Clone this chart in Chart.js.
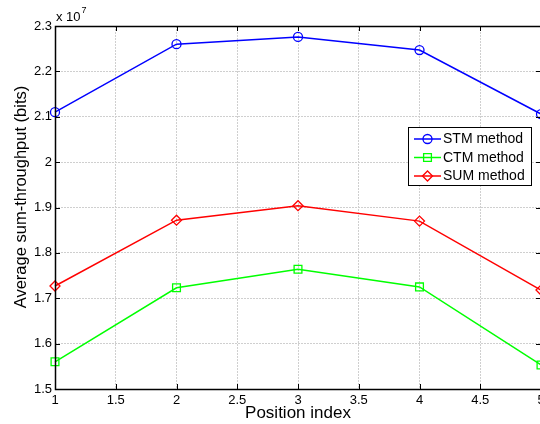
<!DOCTYPE html>
<html>
<head>
<meta charset="utf-8">
<script src="https://cdn.jsdelivr.net/npm/chart.js@4"></script>
<style>
  html, body { margin: 0; padding: 0; overflow: hidden; background: #fff; }
  #wrap { width: 542px; height: 424px; }
</style>
</head>
<body>
<div id="wrap"><canvas id="c" width="542" height="424"></canvas></div>
<script>
// Data (values in units of 10^7 bits)
const positions = [1, 2, 3, 4, 5];
const stmValues = [2.110, 2.260, 2.276, 2.247, 2.106];
const ctmValues = [1.560, 1.723, 1.764, 1.725, 1.553];
const sumValues = [1.727, 1.872, 1.904, 1.870, 1.718];
const seriesNames = ['STM method', 'CTM method', 'SUM method'];
const xTickValues = [1, 1.5, 2, 2.5, 3, 3.5, 4, 4.5, 5];
const yTickValues = [1.5, 1.6, 1.7, 1.8, 1.9, 2.0, 2.1, 2.2, 2.3];
const exponentLabel = '7';
const yTitle = 'Average sum-throughput (bits)';
const xTitle = 'Position index';

const FONT = "'Liberation Sans', Arial, Helvetica, sans-serif";

function toXY(vals) { return positions.map((p, i) => ({ x: p, y: vals[i] })); }

const frameTicks = {
  id: 'frameTicks',
  afterDatasetsDraw(chart) {
    const { ctx, chartArea: a, scales: { x, y } } = chart;
    ctx.save();
    ctx.strokeStyle = '#000';
    ctx.lineWidth = 1;
    const L = 5;
    ctx.beginPath();
    xTickValues.forEach(v => {
      const px = Math.round(x.getPixelForValue(v)) + 0.5;
      ctx.moveTo(px, a.bottom); ctx.lineTo(px, a.bottom - L);
      ctx.moveTo(px, a.top); ctx.lineTo(px, a.top + L);
    });
    yTickValues.forEach(v => {
      const py = Math.round(y.getPixelForValue(v)) + 0.5;
      ctx.moveTo(a.left, py); ctx.lineTo(a.left + L, py);
      ctx.moveTo(a.right, py); ctx.lineTo(a.right - L, py);
    });
    ctx.stroke();
    ctx.lineWidth = 1.5;
    ctx.strokeRect(Math.round(a.left) + 0.5, Math.round(a.top) + 0.5,
                   Math.round(a.right - a.left), Math.round(a.bottom - a.top));
    // exponent label
    ctx.fillStyle = '#000';
    ctx.textBaseline = 'alphabetic';
    ctx.textAlign = 'left';
    ctx.font = '13px ' + FONT;
    ctx.fillText('x 10', a.left + 1, a.top - 5);
    const w = ctx.measureText('x 10').width;
    ctx.font = '9px ' + FONT;
    ctx.fillText(exponentLabel, a.left + 2 + w, a.top - 13);
    // y axis title
    ctx.save();
    ctx.translate(21, 197);
    ctx.rotate(-Math.PI / 2);
    ctx.font = '16.5px ' + FONT;
    ctx.textAlign = 'center';
    ctx.textBaseline = 'middle';
    ctx.fillText(yTitle, 0, 0);
    ctx.restore();
    ctx.restore();
  },
  afterDraw(chart) {
    const { ctx } = chart;
    const bx = 408, by = 127, bw = 123, bh = 58;
    ctx.save();
    ctx.fillStyle = '#fff';
    ctx.fillRect(bx, by, bw, bh);
    ctx.strokeStyle = '#000';
    ctx.lineWidth = 1;
    ctx.strokeRect(bx + 0.5, by + 0.5, bw, bh);
    ctx.font = '14px ' + FONT;
    ctx.textBaseline = 'middle';
    ctx.textAlign = 'left';
    chart.data.datasets.forEach((ds, i) => {
      const cy = by + 12 + i * 18.5;
      ctx.strokeStyle = ds.borderColor;
      ctx.lineWidth = 1.5;
      ctx.beginPath();
      ctx.moveTo(414, cy); ctx.lineTo(441, cy);
      ctx.stroke();
      ctx.fillStyle = 'rgba(0,0,0,0)';
      ctx.lineWidth = 1.3;
      Chart.helpers.drawPoint(ctx, { pointStyle: ds.pointStyle, radius: ds.pointRadius, rotation: 0, borderWidth: 1.3 }, 427.5, cy);
      ctx.fillStyle = '#000';
      ctx.fillText(ds.label, 443, cy + 0.5);
    });
    ctx.restore();
  }
};

new Chart(document.getElementById('c'), {
  type: 'line',
  data: {
    datasets: [
      { label: seriesNames[0], data: toXY(stmValues), borderColor: '#0000ff', pointStyle: 'circle', pointRadius: 4.5 },
      { label: seriesNames[1], data: toXY(ctmValues), borderColor: '#00ff00', pointStyle: 'rect', pointRadius: 5.5 },
      { label: seriesNames[2], data: toXY(sumValues), borderColor: '#ff0000', pointStyle: 'rectRot', pointRadius: 5 }
    ].map(d => Object.assign({
      borderWidth: 1.5, pointBorderWidth: 1.3, pointBackgroundColor: 'rgba(0,0,0,0)',
      pointBorderColor: d.borderColor, fill: false, tension: 0, clip: false
    }, d))
  },
  options: {
    responsive: false,
    animation: false,
    devicePixelRatio: 1,
    layout: { autoPadding: false, padding: { top: 26, right: 1, left: 0, bottom: 0 } },
    plugins: { legend: { display: false }, tooltip: { enabled: false } },
    elements: { point: { hoverRadius: 5 } },
    scales: {
      x: {
        type: 'linear', min: 1, max: 5,
        afterBuildTicks(s) { s.ticks = xTickValues.map(v => ({ value: v })); },
        afterFit(s) { s.height = 35; s.paddingLeft = 0; s.paddingRight = 0; },
        ticks: { color: '#000', font: { family: FONT, size: 13 }, padding: 4, maxRotation: 0, autoSkip: false,
                 callback: v => String(v) },
        grid: { color: '#cfcfcf', drawTicks: false, lineWidth: 1 },
        border: { display: false, dash: [2, 1] },
        title: { display: true, text: xTitle, color: '#000', font: { family: FONT, size: 17 }, padding: { top: 0, bottom: 0 } }
      },
      y: {
        type: 'linear', min: 1.5, max: 2.3,
        afterBuildTicks(s) { s.ticks = yTickValues.map(v => ({ value: v })); },
        afterFit(s) { s.width = 55; s.paddingTop = 0; s.paddingBottom = 0; },
        ticks: { color: '#000', font: { family: FONT, size: 13 }, padding: 3, autoSkip: false,
                 callback: v => String(Number(v.toFixed(1))) },
        grid: { color: '#cfcfcf', drawTicks: false, lineWidth: 1 },
        border: { display: false, dash: [2, 1] },
        title: { display: false }
      }
    }
  },
  plugins: [frameTicks]
});
</script>
</body>
</html>
